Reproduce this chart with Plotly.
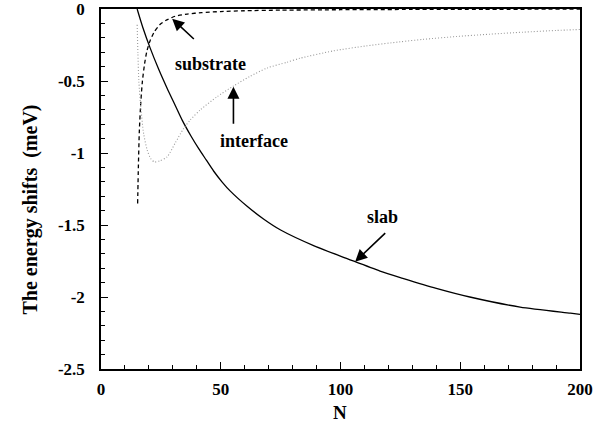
import plotly.graph_objects as go

# Energy shifts (meV) versus layer count N
slab_n = [15.1, 17.5, 20.5, 24.0, 27.6, 31.0, 34.0, 37.5, 40.8, 44.0, 47.0, 50.5, 54.0, 61.0,
          68.0, 75.0, 89.0, 103.0, 116.5, 126.0, 140.0, 154.0, 175.0, 196.0, 200.0]
slab_e = [0.0, -0.13, -0.27, -0.415, -0.55, -0.67, -0.775, -0.88, -0.97, -1.05, -1.125, -1.2,
          -1.265, -1.37, -1.46, -1.535, -1.645, -1.735, -1.82, -1.87, -1.94, -2.0, -2.07,
          -2.112, -2.12]

substrate_n = [15.3, 15.6, 16.0, 16.6, 17.3, 18.2, 19.2, 20.5, 22.2, 24.5, 27.0, 31.0, 36.0,
               42.0, 50.0, 60.0, 75.0, 100.0, 130.0, 160.0, 200.0]
substrate_e = [-1.35, -1.1, -0.85, -0.65, -0.5, -0.38, -0.29, -0.22, -0.16, -0.11, -0.08, -0.05,
               -0.035, -0.025, -0.018, -0.012, -0.008, -0.005, -0.003, -0.002, -0.001]

interface_n = [15.1, 15.4, 15.8, 16.5, 17.8, 19.3, 20.8, 22.3, 24.5, 27.6, 31.0, 34.5, 37.3,
               41.5, 48.4, 55.3, 62.0, 69.3, 77.6, 83.1, 97.0, 110.9, 124.8, 134.5, 148.4,
               162.3, 176.2, 190.0, 200.0]
interface_e = [-0.11, -0.3, -0.5, -0.66, -0.865, -0.98, -1.04, -1.062, -1.055, -1.027, -0.93,
               -0.83, -0.77, -0.70, -0.61, -0.535, -0.47, -0.41, -0.37, -0.342, -0.291, -0.256,
               -0.228, -0.211, -0.191, -0.175, -0.161, -0.149, -0.142]

x_ticks = [0, 50, 100, 150, 200]
x_ticktext = ["0", "50", "100", "150", "200"]
y_ticks = [-2.5, -2.0, -1.5, -1.0, -0.5, 0.0]
y_ticktext = ["-2.5", "-2", "-1.5", "-1", "-0.5", "0"]

FONT = "Liberation Serif"


def bold(items):
    return ["<b>%s</b>" % t for t in items]


fig = go.Figure()
fig.add_trace(go.Scatter(x=slab_n, y=slab_e, mode="lines",
                         line=dict(color="black", width=1.3, shape="spline", smoothing=0.7)))
fig.add_trace(go.Scatter(x=substrate_n, y=substrate_e, mode="lines",
                         line=dict(color="black", width=1.3, dash="4px,3px",
                                   shape="spline", smoothing=0.6)))
fig.add_trace(go.Scatter(x=interface_n, y=interface_e, mode="lines",
                         line=dict(color="#999999", width=1.1, dash="1px,2px",
                                   shape="spline", smoothing=0.7)))

# Arrow labels: (text, label position, arrow tail, arrow tip)
labels = [
    ("substrate", (45.6, -0.38), (39.4, -0.218), (29.7, -0.068)),
    ("interface", (63.7, -0.92), (55.3, -0.807), (55.3, -0.54)),
    ("slab", (117.7, -1.443), (119.3, -1.547), (106.1, -1.755)),
]
for text, (lx, ly), (tx, ty), (hx, hy) in labels:
    fig.add_annotation(x=lx, y=ly, xref="x", yref="y", text="<b>%s</b>" % text,
                       xanchor="center", yanchor="middle",
                       showarrow=False, font=dict(family=FONT, size=18, color="black"))
    fig.add_annotation(x=hx, y=hy, ax=tx, ay=ty, xref="x", yref="y", axref="x", ayref="y",
                       text="", showarrow=True, arrowhead=2, arrowsize=1.5,
                       arrowwidth=1.6, arrowcolor="black", standoff=0, startstandoff=0)

fig.add_annotation(x=-0.147, y=0.442, xref="paper", yref="paper", xanchor="center",
                   yanchor="middle", text="<b>The energy shifts  (meV)</b>", textangle=-90,
                   showarrow=False, font=dict(family=FONT, size=20, color="black"))
fig.add_annotation(x=0.499, y=-0.1205, xref="paper", yref="paper", xanchor="center",
                   yanchor="middle", text="<b>N</b>",
                   showarrow=False, font=dict(family=FONT, size=19, color="black"))

axis_common = dict(showgrid=False, zeroline=False, showline=True, mirror=True,
                   linecolor="black", linewidth=1.5, ticks="inside", tickcolor="black",
                   tickwidth=1, ticklen=7, ticklabeloverflow="allow", automargin=False,
                   tickfont=dict(family=FONT, size=17, color="black"))

fig.update_xaxes(range=[0, 200], tickmode="array", tickvals=x_ticks,
                 ticktext=bold(x_ticktext),
                 minor=dict(dtick=10, tick0=0, ticks="inside", ticklen=4, tickcolor="black"),
                 ticklabelstandoff=4, **axis_common)
fig.update_yaxes(range=[-2.5, 0], tickmode="array", tickvals=y_ticks,
                 ticktext=bold(y_ticktext),
                 minor=dict(dtick=0.1, tick0=0, ticks="inside", ticklen=4, tickcolor="black"),
                 ticklabelstandoff=11, **axis_common)

fig.update_layout(width=613, height=434, showlegend=False,
                  margin=dict(l=100.5, r=32.5, t=8.5, b=64.5),
                  plot_bgcolor="white", paper_bgcolor="white",
                  font=dict(family=FONT, color="black"))

fig.write_html("out.html")
